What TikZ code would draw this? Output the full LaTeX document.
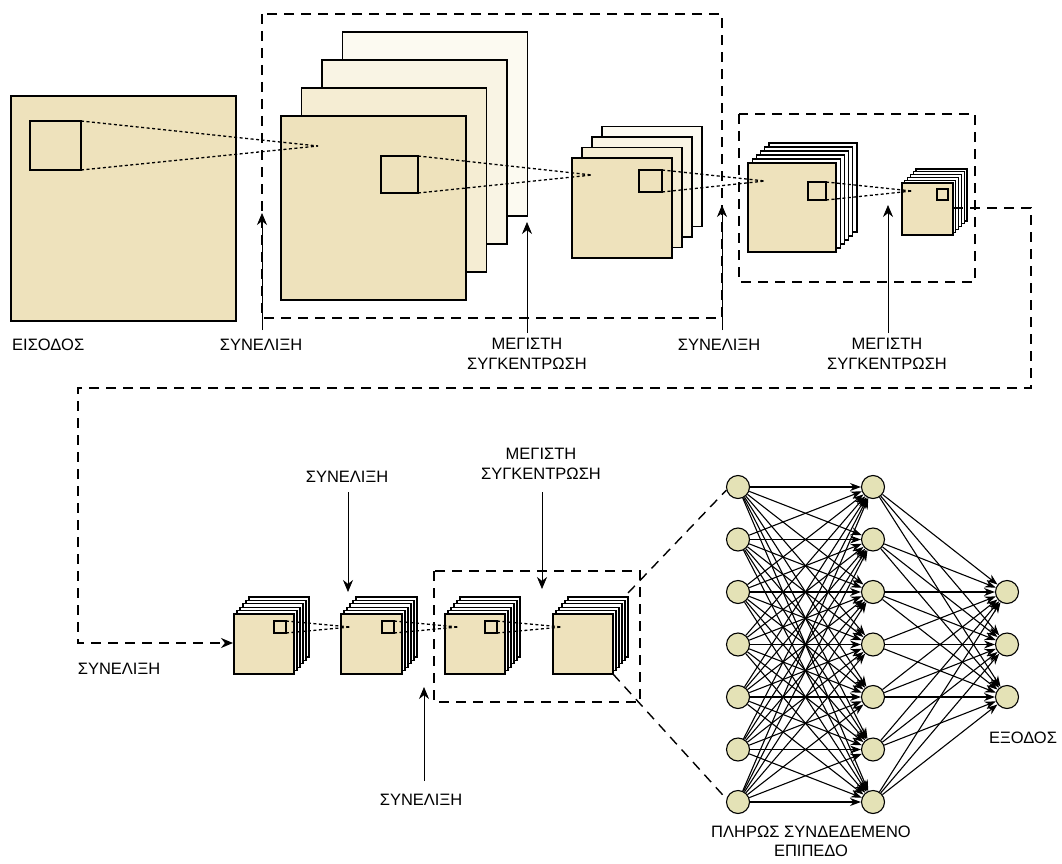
\documentclass[tikz,border=0pt]{standalone}
\usepackage{fontspec}
\setmainfont{Liberation Sans}
\usetikzlibrary{arrows.meta}
\definecolor{tan}{RGB}{238,226,188}
\definecolor{tanA}{RGB}{245,237,211}
\definecolor{tanB}{RGB}{249,244,228}
\definecolor{tanC}{RGB}{252,250,241}
\definecolor{nodefill}{RGB}{228,226,182}
\newcommand{\fmstack}[8]{% x y w h nback dx dy name
  \foreach \i in {#5,...,1}{
    \draw[sheet,fill=white] ({#1+\i*#6},{#2+\i*#7}) rectangle ++(#3,#4);
  }
  \draw[sheet,fill=tan] (#1,#2) rectangle ++(#3,#4);
  \coordinate (#8) at (#1,#2);
}
\begin{document}
\begin{tikzpicture}[x=1pt,y=-1pt,
  sheet/.style={draw=black,line width=1.3pt},
  kern/.style={draw=black,line width=1.8pt,inner sep=0pt,outer sep=0pt,anchor=north west},
  dots/.style={dash pattern=on 3pt off 2.5pt,line width=1.3pt},
  grp/.style={dash pattern=on 10pt off 7pt,line width=1.4pt},
  lbl/.style={font=\fontsize{16.5}{20}\selectfont,align=center,inner sep=0pt},
  ptr/.style={line width=0.7pt,-{Stealth[length=12pt,width=10pt]}},
  neuron/.style={circle,draw=black,line width=1.1pt,fill=nodefill,minimum size=23pt,inner sep=0pt},
  fc/.style={line width=1.1pt,-{Stealth[length=11pt,width=8pt]}},
]
\useasboundingbox (0,0) rectangle (1062,864);
\fill[white] (0,0) rectangle (1062,864);

% ---------- group boxes ----------
\draw[grp] (262,14) rectangle (722,318);
\draw[grp] (739,114) rectangle (975,282);
\draw[grp] (434,571) rectangle (640,702);

% ---------- top row ----------
\draw[sheet,fill=tan] (11,96) rectangle (236,321);
\node[kern,minimum width=51pt,minimum height=49pt] (k0) at (30,121) {};

% conv1: 4 sheets
\draw[sheet,fill=tanC] (342.5,32) rectangle ++(185,184);
\draw[sheet,fill=tanB] (322,60) rectangle ++(185,184);
\draw[sheet,fill=tanA] (301.5,88) rectangle ++(185,184);
\draw[sheet,fill=tan] (281,116) rectangle ++(185,184);
\node[kern,minimum width=37pt,minimum height=37pt] (k1) at (381,156) {};

% pool1: 4 sheets
\draw[sheet,fill=tanC] (602,126.5) rectangle ++(100,100);
\draw[sheet,fill=tanB] (592,137) rectangle ++(100,100);
\draw[sheet,fill=tanA] (582,147.5) rectangle ++(100,100);
\draw[sheet,fill=tan] (572,158) rectangle ++(100,100);
\node[kern,minimum width=23pt,minimum height=22pt] (k2) at (639,170) {};

% conv2
\fmstack{748}{163}{88}{89}{5}{4.2}{-4}{s3}
\node[kern,minimum width=18pt,minimum height=18pt] (k3) at (808,182) {};

% pool2
\fmstack{902}{183}{51}{52}{5}{2.8}{-2.8}{s4}
\node[kern,minimum width=11pt,minimum height=11pt] (k4) at (937,189) {};

% ---------- bottom row ----------
\fmstack{234}{614}{60}{60}{5}{3}{-3.4}{s5}
\node[kern,minimum width=12pt,minimum height=12pt] (k5) at (274,621) {};
\fmstack{341}{614}{61}{60}{5}{3}{-3.4}{s6}
\node[kern,minimum width=12pt,minimum height=12pt] (k6) at (382,621) {};
\fmstack{445}{614}{60}{60}{5}{3}{-3.4}{s7}
\node[kern,minimum width=12pt,minimum height=12pt] (k7) at (485,621) {};
\fmstack{553}{614}{60}{60}{5}{3}{-3.4}{s8}

% convergence points
\coordinate (c1) at (318,146);
\coordinate (c2) at (592,175);
\coordinate (c3) at (765,181);
\coordinate (c4) at (912,191);
\coordinate (c5) at (350,627);
\coordinate (c6) at (458,627);
\coordinate (c7) at (562,627);

% dotted receptive-field lines
\foreach \k/\c in {k0/c1,k1/c2,k2/c3,k3/c4,k5/c5,k6/c6,k7/c7}{
  \draw[dots] (\k.north east) -- (\c);
  \draw[dots] (\k.south east) -- (\c);
}

% ---------- main dashed connector ----------
\coordinate (p2r) at (953,208);
\coordinate (q1) at (1031,208);
\coordinate (q2) at (1031,388);
\coordinate (q3) at (78,388);
\coordinate (q4) at (78,643);
\coordinate (s5w) at (233,643);
\draw[grp,-{Stealth[length=12pt,width=10pt]}] (p2r) -- (q1) -- (q2) -- (q3) -- (q4) -- (s5w);

% ---------- labels ----------
\node[lbl,anchor=west] (tin) at (12,345) {ΕΙΣΟΔΟΣ};
\node[lbl] (tc1) at (261,345) {ΣΥΝΕΛΙΞΗ};
\node[lbl,anchor=north] (tp1) at (527,338) {ΜΕΓΙΣΤΗ\\ΣΥΓΚΕΝΤΡΩΣΗ};
\node[lbl] (tc2) at (719,345) {ΣΥΝΕΛΙΞΗ};
\node[lbl,anchor=north] (tp2) at (887,338) {ΜΕΓΙΣΤΗ\\ΣΥΓΚΕΝΤΡΩΣΗ};
\node[lbl] (tc3) at (119,669) {ΣΥΝΕΛΙΞΗ};
\node[lbl] (tc4) at (347,477) {ΣΥΝΕΛΙΞΗ};
\node[lbl,anchor=north] (tp3) at (541,448) {ΜΕΓΙΣΤΗ\\ΣΥΓΚΕΝΤΡΩΣΗ};
\node[lbl] (tc5) at (421,800) {ΣΥΝΕΛΙΞΗ};
\node[lbl] (tout) at (1023,738) {ΕΞΟΔΟΣ};
\node[lbl,anchor=north,font=\fontsize{16.5}{18.5}\selectfont] (tfc) at (811,826) {ΠΛΗΡΩΣ ΣΥΝΔΕΔΕΜΕΝΟ\\ΕΠΙΠΕΔΟ};

% ---------- pointer arrows ----------
\coordinate (a1) at (262,213);
\coordinate (a2) at (527,222);
\coordinate (a3) at (722,205);
\coordinate (a4) at (888,205);
\coordinate (a5) at (348,592);
\coordinate (a6) at (542,589);
\coordinate (a7) at (424,687);
\draw[ptr] (262,330) -- (a1);
\draw[ptr] (527,333) -- (a2);
\draw[ptr] (722,330) -- (a3);
\draw[ptr] (888,333) -- (a4);
\draw[ptr] (348,492) -- (a5);
\draw[ptr] (542,492) -- (a6);
\draw[ptr] (424,781) -- (a7);

% ---------- fully connected network ----------
\foreach \j [evaluate=\j as \yy using 487+(\j-1)*52.5] in {1,...,7}{
  \node[neuron] (i\j) at (738,\yy) {};
  \node[neuron] (h\j) at (873,\yy) {};
}
\foreach \j [evaluate=\j as \yy using 592+(\j-1)*52.5] in {1,2,3}{
  \node[neuron] (o\j) at (1007,\yy) {};
}
\foreach \a in {1,...,7}{
  \foreach \b in {1,...,7}{
    \draw[fc] (i\a) -- (h\b);
  }
  \foreach \b in {1,2,3}{
    \draw[fc] (h\a) -- (o\b);
  }
}

% flatten lines from last pooling stack
\coordinate (s8tr) at (628,593);
\coordinate (s8br) at (613,674);
\draw[grp] (s8tr) -- (i1.195);
\draw[grp] (s8br) -- (i7.165);
\end{tikzpicture}
\end{document}
